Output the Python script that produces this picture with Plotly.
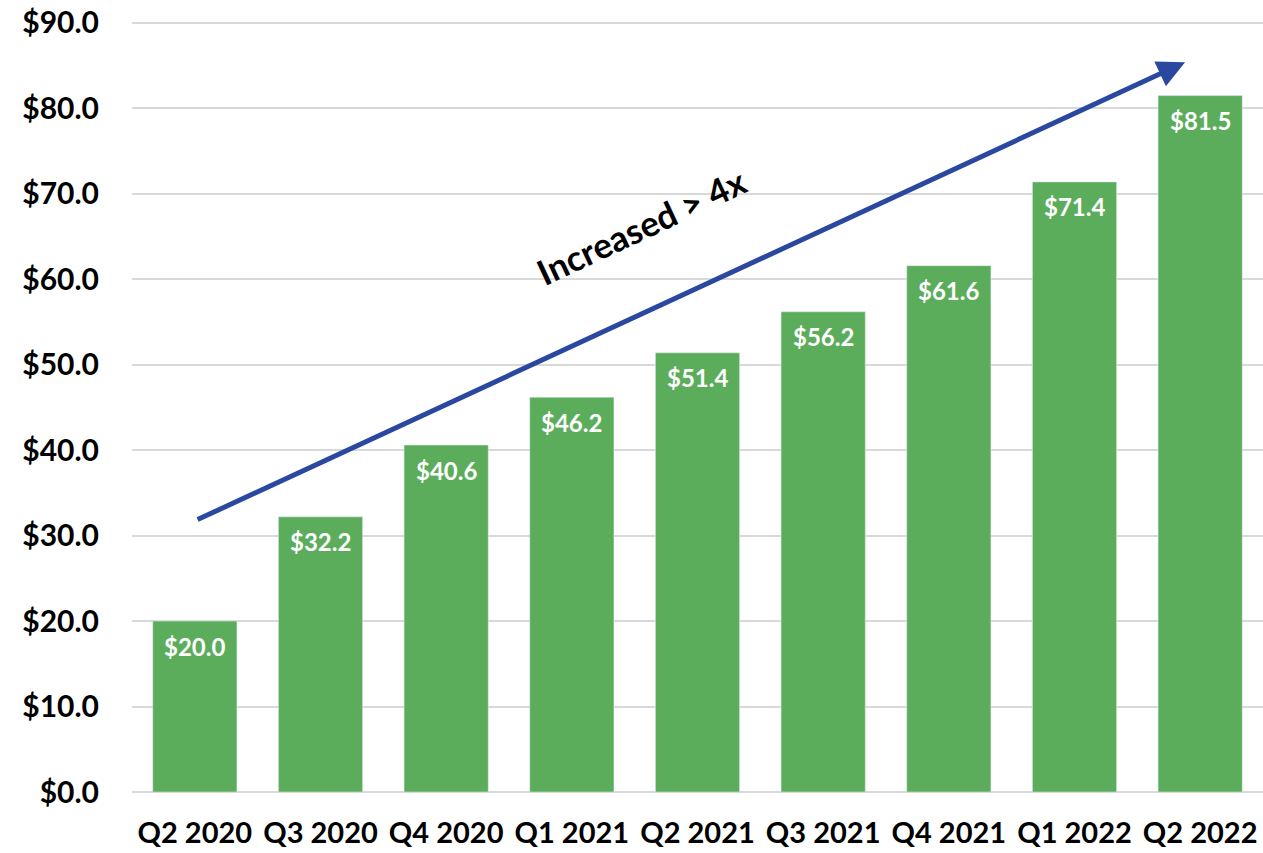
import plotly.graph_objects as go

quarters = ["Q2 2020", "Q3 2020", "Q4 2020", "Q1 2021", "Q2 2021",
            "Q3 2021", "Q4 2021", "Q1 2022", "Q2 2022"]
values = [20.0, 32.2, 40.6, 46.2, 51.4, 56.2, 61.6, 71.4, 81.5]
labels = ["$%.1f" % v for v in values]

font = "Lato, 'Open Sans', sans-serif"

fig = go.Figure(go.Bar(x=quarters, y=values, marker_color="#5BAD5C"))

# value labels just under the top of each bar
for q, v, t in zip(quarters, values, labels):
    fig.add_annotation(x=q, y=v, text="<b>%s</b>" % t, showarrow=False,
                       yanchor="middle", yshift=-25,
                       font=dict(color="white", size=24, family=font))

# trend arrow
fig.add_annotation(x=7.88, y=85.4, ax=0.01, ay=31.8, xref="x", yref="y",
                   axref="x", ayref="y", text="", showarrow=True,
                   arrowhead=2, arrowsize=1.1, arrowwidth=5, arrowcolor="#2B48A0")
fig.add_annotation(x=3.55, y=66.3, xref="x", yref="y", text="<b>Increased > 4x</b>",
                   showarrow=False, textangle=-25,
                   font=dict(size=35, color="black", family=font))

fig.update_layout(
    width=1263, height=853,
    plot_bgcolor="white", paper_bgcolor="white",
    margin=dict(l=132, r=0, t=20, b=61, autoexpand=False),
    bargap=0.33, showlegend=False,
    font=dict(family=font, color="black"),
)
fig.update_xaxes(range=[-0.5, 8.5], showgrid=False, showline=False, automargin=False,
                 tickfont=dict(size=29, family=font, weight="bold"),
                 ticks="", ticklabelstandoff=21)
fig.update_yaxes(range=[0, 90.35], tick0=0, dtick=10, tickprefix="$", tickformat=".1f",
                 automargin=False,
                 gridcolor="#D9D9D9", gridwidth=1.5, zeroline=True,
                 zerolinecolor="#D9D9D9", zerolinewidth=1.5,
                 tickfont=dict(size=30, family=font, weight="bold"),
                 ticklabelstandoff=32)

# drop the default 8px page margin so the figure fills the window
fig.write_html("out.html", config={"displayModeBar": False},
               post_script="document.body.style.margin='0px';")
